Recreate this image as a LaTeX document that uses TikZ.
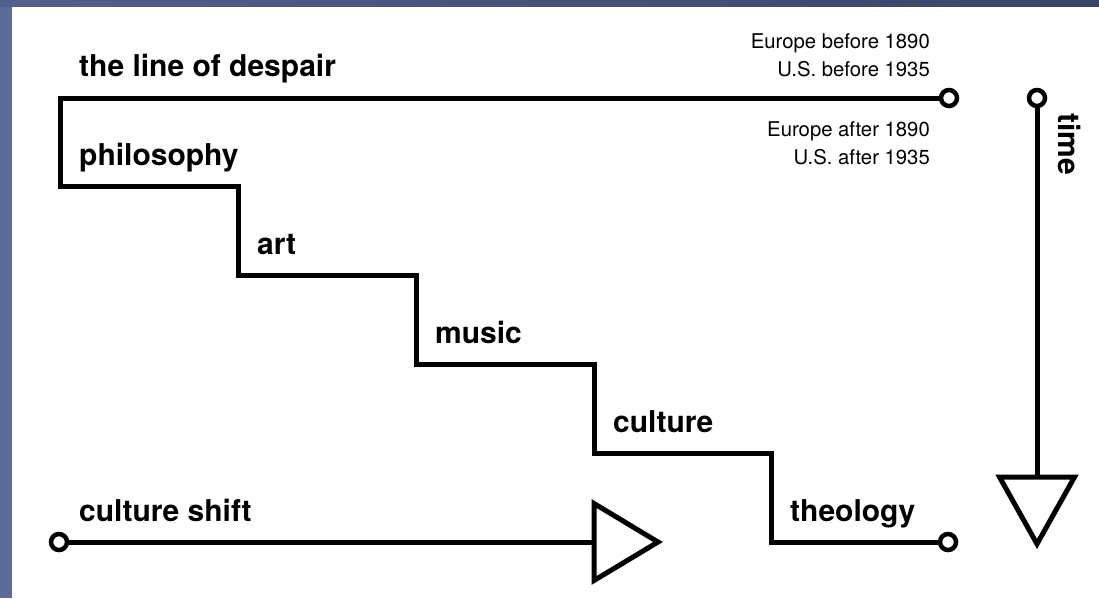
\documentclass[tikz,border=0pt]{standalone}
\usepackage{fontspec}
\setmainfont{TeX Gyre Heros}
\begin{document}
\begin{tikzpicture}[x=1pt,y=-1pt,
  lbl/.style={anchor=base west,inner sep=0pt,font=\fontsize{30}{36}\selectfont\bfseries},
  note/.style={anchor=base east,inner sep=0pt,font=\fontsize{20.3}{24}\selectfont},
  wire/.style={line width=5pt,line join=miter,line cap=butt},
  endpt/.style={circle,draw,line width=4.5pt,fill=white,inner sep=0pt,minimum size=16pt},
  head/.style={line width=5pt,line join=miter,fill=white}]
\useasboundingbox (0,0) rectangle (1099,598);
\fill[white] (0,0) rectangle (1099,598);
\fill[fill={rgb,255:red,92;green,107;blue,152}] (0,0) rectangle (12,598);
\shade[left color={rgb,255:red,82;green,96;blue,138},right color={rgb,255:red,58;green,68;blue,102}] (0,0) rectangle (1099,6);
% staircase coordinates
\coordinate (s0) at (60,98);
\coordinate (s1) at (60,186.8);
\coordinate (s2) at (238,186.8);
\coordinate (s3) at (238,275.6);
\coordinate (s4) at (416,275.6);
\coordinate (s5) at (416,364.4);
\coordinate (s6) at (594,364.4);
\coordinate (s7) at (594,453.2);
\coordinate (s8) at (771,453.2);
\coordinate (s9) at (771,542);
% end circles
\node[endpt] (topend) at (949,98) {};
\node[endpt] (botend) at (948,542) {};
\node[endpt] (shiftstart) at (59,542) {};
\node[endpt] (timestart) at (1037,98) {};
% staircase line
\draw[wire] (topend.west) -- (s0) -- (s1) -- (s2) -- (s3) -- (s4) -- (s5) -- (s6) -- (s7) -- (s8) -- (s9) -- (botend.west);
% culture shift arrow
\coordinate (shifthead) at (594,542);
\draw[wire] (shiftstart.east) -- (shifthead);
\draw[head] (shifthead) -- ++(0,-38.5) -- ++(64,38.5) -- ++(-64,38.5) -- cycle;
% time arrow
\coordinate (timehead) at (1037,477);
\draw[wire] (timestart.south) -- (timehead);
\draw[head] (timehead) -- ++(-37.5,0) -- ++(37.5,67) -- ++(37.5,-67) -- cycle;
% labels
\node[lbl] (despair) at (79,76) {the line of despair};
\node[lbl] (philosophy) at (79,165) {philosophy};
\node[lbl] (art) at (257,254) {art};
\node[lbl] (music) at (435,343) {music};
\node[lbl] (culture) at (613,432) {culture};
\node[lbl] (theology) at (790,521) {theology};
\node[lbl] (shift) at (79,521) {culture shift};
\node[lbl,rotate=-90] (time) at (1058,113) {time};
% notes
\node[note] (eubefore) at (930,48) {Europe before 1890};
\node[note] (usbefore) at (930,76) {U.S. before 1935};
\node[note] (euafter) at (930,136) {Europe after 1890};
\node[note] (usafter) at (930,164) {U.S. after 1935};
\end{tikzpicture}
\end{document}
